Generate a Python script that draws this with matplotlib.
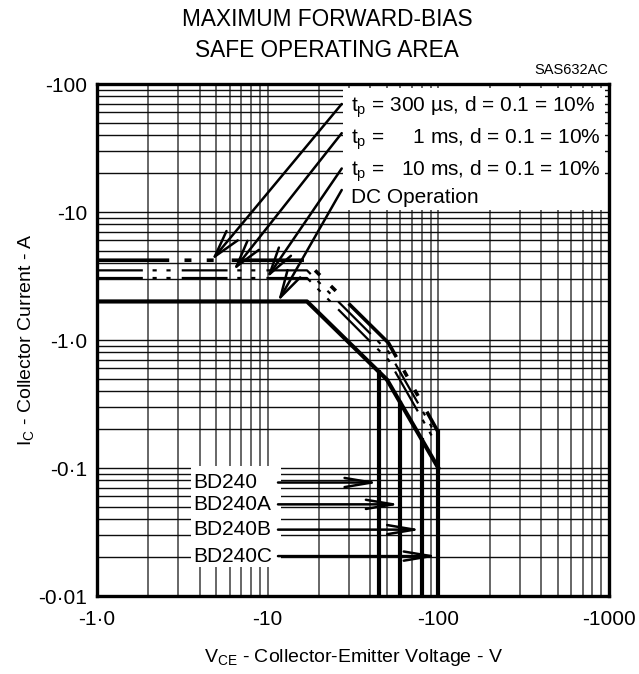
import numpy as np
import matplotlib
matplotlib.use("Agg")
import matplotlib.pyplot as plt
from matplotlib.patches import Rectangle
from matplotlib.ticker import LogLocator, NullFormatter

plt.rcParams['font.family'] = ['Liberation Sans', 'DejaVu Sans']
plt.rcParams['lines.scale_dashes'] = False

# safe operating area curves (VCE in V, IC in A, shown as magnitudes)
v_300us = [1, 16.5, 51, 100]
i_300us = [4.2, 4.2, 0.95, 0.19]
v_1ms = [1, 17, 51, 100]
i_1ms = [3.5, 3.5, 0.81, 0.17]
v_10ms = [1, 17, 51, 100]
i_10ms = [3.05, 3.05, 0.70, 0.145]
v_dc = [1, 17, 50, 100]
i_dc = [2.0, 2.0, 0.49, 0.10]

# VCEO limits per part
parts = ['BD240', 'BD240A', 'BD240B', 'BD240C']
vceo = [45, 60, 80, 100]
part_arrow_i = [0.077, 0.052, 0.033, 0.0205]

# where the legend arrows hit each curve
legend_labels = [r'$\mathregular{t_p}$ = 300 µs, d = 0.1 = 10%',
                 r'$\mathregular{t_p}$ =     1 ms, d = 0.1 = 10%',
                 r'$\mathregular{t_p}$ =   10 ms, d = 0.1 = 10%',
                 'DC Operation']
arrow_tip_v = [4.7, 6.3, 9.9, 11.5]

x_ticks = [1, 10, 100, 1000]
x_ticklabels = ['-1·0', '-10', '-100', '-1000']
y_ticks = [0.01, 0.1, 1, 10, 100]
y_ticklabels = ['-0·01', '-0·1', '-1·0', '-10', '-100']

fig = plt.figure(figsize=(6.39, 6.74), dpi=100)
ax = fig.add_axes([97/639, 1 - 596/674, 512/639, 512/674])
ax.set_xscale('log')
ax.set_yscale('log')
ax.set_xlim(1, 1000)
ax.set_ylim(0.01, 100)

for a in (ax.xaxis, ax.yaxis):
    a.set_minor_locator(LogLocator(base=10, subs=range(2, 10)))
    a.set_minor_formatter(NullFormatter())
ax.grid(which='both', axis='x', color='0.4', lw=1.4)
ax.grid(which='both', axis='y', color='0.05', lw=1.0)

ax.set_xticks(x_ticks)
ax.set_xticklabels(x_ticklabels)
ax.set_yticks(y_ticks)
ax.set_yticklabels(y_ticklabels)
ax.tick_params(which='both', length=0, labelsize=15)
ax.tick_params(axis='x', pad=10)
ax.tick_params(axis='y', pad=7)
for s in ax.spines.values():
    s.set_linewidth(2.4)

ax.set_xlabel(r'$\mathregular{V_{CE}}$ - Collector-Emitter Voltage - V', fontsize=14)
ax.set_ylabel(r'$\mathregular{I_C}$ - Collector Current - A', fontsize=14)
ax.xaxis.set_label_coords(0.5, -0.10)
ax.yaxis.set_label_coords(-0.119, 0.5)

# white boxes behind the labels
ax.add_patch(Rectangle((0.4805, 0.754), 0.5117, 0.238, transform=ax.transAxes,
                       fc='white', ec='none', zorder=1.8))
ax.add_patch(Rectangle((0.1836, 0.0566), 0.1758, 0.197, transform=ax.transAxes,
                       fc='white', ec='none', zorder=1.8))

# curves
ax.plot(v_300us, i_300us, color='black', lw=2.6, dashes=(52, 11, 5, 11, 5, 13), zorder=3)
ax.plot(v_1ms, i_1ms, color='black', lw=1.6, dashes=(33, 7, 3, 7, 3, 8), zorder=3)
ax.plot(v_10ms, i_10ms, color='black', lw=1.6, dashes=(33, 7, 3, 7, 3, 8), zorder=3)
ax.plot(v_dc, i_dc, color='black', lw=3, zorder=3)

for v in vceo:
    if v == vceo[-1]:
        top = i_300us[-1]
    else:
        top = 10 ** np.interp(np.log10(v), np.log10(v_dc), np.log10(i_dc))
    ax.plot([v, v], [0.01, top], color='black', lw=3, zorder=3)

# legend text and arrows
text_y = [0.945, 0.883, 0.820, 0.768]
tail_y = [0.961, 0.904, 0.835, 0.793]
levels = [i_300us[0], i_1ms[0], i_10ms[0], i_dc[0]]
for lab, ty, ay, tv, lv in zip(legend_labels, text_y, tail_y, arrow_tip_v, levels):
    ax.text(0.496, ty, lab, transform=ax.transAxes, fontsize=15, va='baseline', zorder=4)
    ax.annotate('', xy=(tv, lv), xycoords='data', xytext=(0.478, ay), textcoords='axes fraction',
                arrowprops=dict(arrowstyle='->,head_length=1.3,head_width=0.35', lw=1.8,
                                color='black', shrinkA=0, shrinkB=0, mutation_scale=15),
                zorder=4)

# part labels
for name, v, iy in zip(parts, vceo, part_arrow_i):
    ax.text(0.1875, iy, name, transform=ax.get_yaxis_transform(), fontsize=15,
            va='center', zorder=4)
    ax.annotate('', xy=(v, iy), xycoords='data', xytext=(0.3535, iy),
                textcoords=('axes fraction', 'data'),
                arrowprops=dict(arrowstyle='->,head_length=1.3,head_width=0.22', lw=1.8,
                                color='black', shrinkA=0, shrinkB=0, mutation_scale=15),
                zorder=4)

fig.text(327/639, 1 - 35/674, 'MAXIMUM FORWARD-BIAS\nSAFE OPERATING AREA',
         ha='center', va='center', fontsize=16.3, linespacing=1.4)
fig.text(608/639, 1 - 70/674, 'SAS632AC', ha='right', va='center', fontsize=10.5)

fig.savefig('out.png', dpi=100)
